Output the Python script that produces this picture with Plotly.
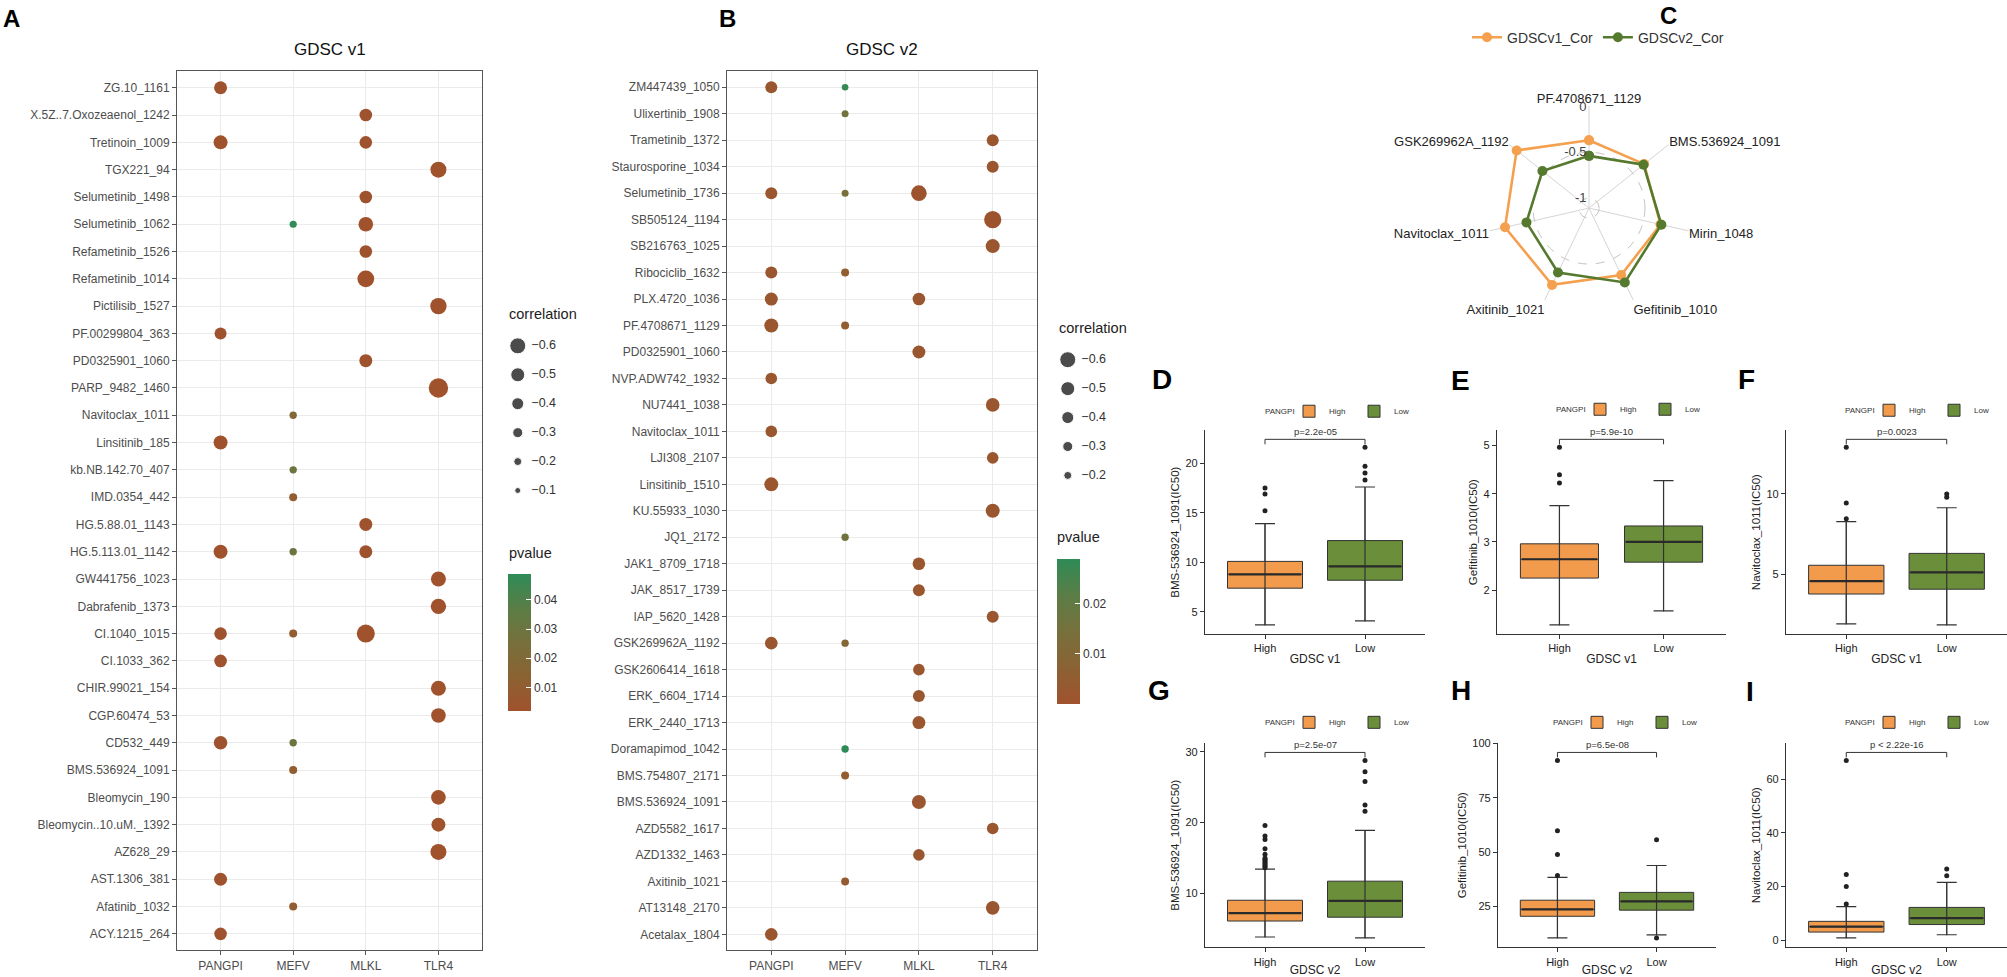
import plotly.graph_objects as go

W, H = 2007, 977

# ---------------- data ----------------
GENES = ["PANGPI", "MEFV", "MLKL", "TLR4"]

V1_ROWS = ["ZG.10_1161", "X.5Z..7.Oxozeaenol_1242", "Tretinoin_1009", "TGX221_94",
           "Selumetinib_1498", "Selumetinib_1062", "Refametinib_1526", "Refametinib_1014",
           "Pictilisib_1527", "PF.00299804_363", "PD0325901_1060", "PARP_9482_1460",
           "Navitoclax_1011", "Linsitinib_185", "kb.NB.142.70_407", "IMD.0354_442",
           "HG.5.88.01_1143", "HG.5.113.01_1142", "GW441756_1023", "Dabrafenib_1373",
           "CI.1040_1015", "CI.1033_362", "CHIR.99021_154", "CGP.60474_53", "CD532_449",
           "BMS.536924_1091", "Bleomycin_190", "Bleomycin..10.uM._1392", "AZ628_29",
           "AST.1306_381", "Afatinib_1032", "ACY.1215_264"]

V1_DRUG = ["ZG.10_1161", "X.5Z..7.Oxozeaenol_1242", "Tretinoin_1009", "Tretinoin_1009",
           "TGX221_94", "Selumetinib_1498", "Selumetinib_1062", "Selumetinib_1062",
           "Refametinib_1526", "Refametinib_1014", "Pictilisib_1527", "PF.00299804_363",
           "PD0325901_1060", "PARP_9482_1460", "Navitoclax_1011", "Linsitinib_185",
           "kb.NB.142.70_407", "IMD.0354_442", "HG.5.88.01_1143", "HG.5.113.01_1142",
           "HG.5.113.01_1142", "HG.5.113.01_1142", "GW441756_1023", "Dabrafenib_1373",
           "CI.1040_1015", "CI.1040_1015", "CI.1040_1015", "CI.1033_362", "CHIR.99021_154",
           "CGP.60474_53", "CD532_449", "CD532_449", "BMS.536924_1091", "Bleomycin_190",
           "Bleomycin..10.uM._1392", "AZ628_29", "AST.1306_381", "Afatinib_1032", "ACY.1215_264"]
V1_GENE = ["PANGPI", "MLKL", "PANGPI", "MLKL", "TLR4", "MLKL", "MEFV", "MLKL", "MLKL", "MLKL",
           "TLR4", "PANGPI", "MLKL", "TLR4", "MEFV", "PANGPI", "MEFV", "MEFV", "MLKL", "PANGPI",
           "MEFV", "MLKL", "TLR4", "TLR4", "PANGPI", "MEFV", "MLKL", "PANGPI", "TLR4", "TLR4",
           "PANGPI", "MEFV", "MEFV", "TLR4", "TLR4", "TLR4", "PANGPI", "MEFV", "PANGPI"]
V1_COR = [-0.45, -0.43, -0.50, -0.43, -0.60, -0.43, -0.16, -0.53, -0.43, -0.64,
          -0.62, -0.40, -0.45, -0.77, -0.17, -0.50, -0.17, -0.20, -0.45, -0.50,
          -0.17, -0.45, -0.55, -0.57, -0.43, -0.20, -0.70, -0.43, -0.55, -0.53,
          -0.48, -0.17, -0.20, -0.53, -0.50, -0.60, -0.45, -0.20, -0.43]
V1_P = [0.003, 0.003, 0.002, 0.003, 0.002, 0.003, 0.048, 0.002, 0.003, 0.002,
        0.002, 0.003, 0.003, 0.001, 0.019, 0.002, 0.030, 0.010, 0.003, 0.002,
        0.030, 0.003, 0.002, 0.002, 0.003, 0.010, 0.001, 0.003, 0.002, 0.002,
        0.003, 0.030, 0.010, 0.002, 0.002, 0.002, 0.003, 0.010, 0.003]

V2_ROWS = ["ZM447439_1050", "Ulixertinib_1908", "Trametinib_1372", "Staurosporine_1034",
           "Selumetinib_1736", "SB505124_1194", "SB216763_1025", "Ribociclib_1632",
           "PLX.4720_1036", "PF.4708671_1129", "PD0325901_1060", "NVP.ADW742_1932",
           "NU7441_1038", "Navitoclax_1011", "LJI308_2107", "Linsitinib_1510", "KU.55933_1030",
           "JQ1_2172", "JAK1_8709_1718", "JAK_8517_1739", "IAP_5620_1428", "GSK269962A_1192",
           "GSK2606414_1618", "ERK_6604_1714", "ERK_2440_1713", "Doramapimod_1042",
           "BMS.754807_2171", "BMS.536924_1091", "AZD5582_1617", "AZD1332_1463",
           "Axitinib_1021", "AT13148_2170", "Acetalax_1804"]

V2_DRUG = ["ZM447439_1050", "ZM447439_1050", "Ulixertinib_1908", "Trametinib_1372",
           "Staurosporine_1034", "Selumetinib_1736", "Selumetinib_1736", "Selumetinib_1736",
           "SB505124_1194", "SB216763_1025", "Ribociclib_1632", "Ribociclib_1632",
           "PLX.4720_1036", "PLX.4720_1036", "PF.4708671_1129", "PF.4708671_1129",
           "PD0325901_1060", "NVP.ADW742_1932", "NU7441_1038", "Navitoclax_1011",
           "LJI308_2107", "Linsitinib_1510", "KU.55933_1030", "JQ1_2172", "JAK1_8709_1718",
           "JAK_8517_1739", "IAP_5620_1428", "GSK269962A_1192", "GSK269962A_1192",
           "GSK2606414_1618", "ERK_6604_1714", "ERK_2440_1713", "Doramapimod_1042",
           "BMS.754807_2171", "BMS.536924_1091", "AZD5582_1617", "AZD1332_1463",
           "Axitinib_1021", "AT13148_2170", "Acetalax_1804"]
V2_GENE = ["PANGPI", "MEFV", "MEFV", "TLR4", "TLR4", "PANGPI", "MEFV", "MLKL", "TLR4", "TLR4",
           "PANGPI", "MEFV", "PANGPI", "MLKL", "PANGPI", "MEFV", "MLKL", "PANGPI", "TLR4", "PANGPI",
           "TLR4", "PANGPI", "TLR4", "MEFV", "MLKL", "MLKL", "TLR4", "PANGPI", "MEFV", "MLKL",
           "MLKL", "MLKL", "MEFV", "MEFV", "MLKL", "TLR4", "MLKL", "MEFV", "TLR4", "PANGPI"]
V2_COR = [-0.40, -0.13, -0.15, -0.40, -0.40, -0.40, -0.15, -0.58, -0.66, -0.50,
          -0.40, -0.20, -0.45, -0.43, -0.50, -0.20, -0.45, -0.38, -0.48, -0.38,
          -0.38, -0.50, -0.50, -0.17, -0.43, -0.40, -0.40, -0.43, -0.17, -0.38,
          -0.40, -0.45, -0.17, -0.20, -0.50, -0.38, -0.38, -0.20, -0.48, -0.43]
V2_P = [0.002, 0.028, 0.016, 0.002, 0.002, 0.002, 0.014, 0.001, 0.001, 0.002,
        0.002, 0.005, 0.002, 0.002, 0.002, 0.005, 0.002, 0.002, 0.002, 0.002,
        0.002, 0.002, 0.002, 0.016, 0.002, 0.002, 0.002, 0.002, 0.010, 0.002,
        0.002, 0.002, 0.029, 0.004, 0.002, 0.002, 0.002, 0.004, 0.002, 0.002]

V1_SIZE_BREAKS = [-0.6, -0.5, -0.4, -0.3, -0.2, -0.1]
V2_SIZE_BREAKS = [-0.6, -0.5, -0.4, -0.3, -0.2]
V1_P_TICKS = [0.01, 0.02, 0.03, 0.04]
V2_P_TICKS = [0.01, 0.02]

RADAR_AXES = ["PF.4708671_1129", "BMS.536924_1091", "Mirin_1048", "Gefitinib_1010",
              "Axitinib_1021", "Navitoclax_1011", "GSK269962A_1192"]
RADAR_V1 = [-0.37, -0.34, -0.31, -0.30, -0.18, -0.17, -0.10]
RADAR_V2 = [-0.54, -0.35, -0.30, -0.21, -0.33, -0.41, -0.46]
RADAR_GRID = [-1, -0.5, 0]

GROUPS = ["High", "Low"]
# box stats: [lower whisker, Q1, median, Q3, upper whisker]
D_HIGH = [3.7, 7.4, 8.8, 10.1, 13.9]
D_HIGH_OUT = [15.2, 16.9, 17.5]
D_LOW = [4.1, 8.2, 9.6, 12.2, 17.6]
D_LOW_OUT = [18.3, 19.0, 19.7, 21.6]
E_HIGH = [1.28, 2.25, 2.64, 2.96, 3.75]
E_HIGH_OUT = [4.22, 4.39, 4.96]
E_LOW = [1.57, 2.58, 3.00, 3.33, 4.27]
E_LOW_OUT = []
F_HIGH = [1.91, 3.77, 4.57, 5.56, 8.27]
F_HIGH_OUT = [8.46, 9.44, 12.9]
F_LOW = [1.85, 4.07, 5.12, 6.30, 9.14]
F_LOW_OUT = [9.8, 10.0]
G_HIGH = [3.8, 6.06, 7.18, 9.0, 13.4]
G_HIGH_OUT = [13.6, 13.8, 14.0, 14.2, 14.4, 14.6, 14.8, 15.0, 15.5, 16.3, 17.6, 18.1, 19.6]
G_LOW = [3.66, 6.6, 8.9, 11.7, 18.9]
G_LOW_OUT = [21.6, 22.5, 25.8, 27.2, 28.8]
H_HIGH = [10.4, 20.4, 23.6, 27.8, 38.3]
H_HIGH_OUT = [39.2, 48.8, 59.8, 92.2]
H_LOW = [11.8, 23.2, 27.3, 31.4, 43.8]
H_LOW_OUT = [10.4, 55.6]
I_HIGH = [0.8, 3.0, 5.0, 7.0, 12.5]
I_HIGH_OUT = [13.5, 20.0, 24.5, 67.0]
I_LOW = [2.0, 5.8, 8.2, 12.2, 21.5]
I_LOW_OUT = [24.0, 26.5]
P_LABELS = ["p=2.2e-05", "p=5.9e-10", "p=0.0023", "p=2.5e-07", "p=6.5e-08", "p < 2.22e-16"]

# ---------------- helpers / styles ----------------
def X(a):
    return a / W


def Y(b):
    return 1 - b / H


def xdom(a, b):
    return [a / W, b / W]


def ydom(top, bottom):
    return [1 - bottom / H, 1 - top / H]


def dot_size(c):
    return 4 + 20 * abs(c)


FONT = "Liberation Sans, Arial, sans-serif"
PSCALE = [[0, "#A0522D"], [0.25, "#8B6233"], [0.5, "#77703C"], [0.75, "#5B7D46"], [1, "#2E8B57"]]
ORANGE = "#F29B4C"
GREEN = "#6A8E3A"
R_OR = "#F4A04E"
R_GR = "#557A2E"

fig = go.Figure()
layout = dict(width=W, height=H, margin=dict(l=0, r=0, t=0, b=0), paper_bgcolor="white",
              plot_bgcolor="white", font=dict(family=FONT, color="#333"), boxmode="overlay")
ann = []


def axname(n):
    return "" if n == 1 else str(n)


# ---------------- dot plots (A, B) ----------------
def dot_panel(n, rows, drugs, genes, cors, ps, xd, yd, cax, title, title_xy):
    s = axname(n)
    fig.add_trace(go.Scatter(x=genes, y=drugs, mode="markers",
                             marker=dict(size=[dot_size(c) for c in cors], color=ps,
                                         coloraxis=cax, line=dict(width=0), opacity=1),
                             xaxis="x" + s, yaxis="y" + s, showlegend=False, hoverinfo="skip"))
    common = dict(showgrid=True, gridcolor="#EBEBEB", gridwidth=1, showline=True, mirror=True,
                  linecolor="#555", linewidth=1, ticks="outside", ticklen=4, tickcolor="#555",
                  zeroline=False, tickfont=dict(size=12, color="#4D4D4D"))
    layout["xaxis" + s] = dict(domain=xd, anchor="y" + s, type="category", categoryorder="array",
                               categoryarray=GENES, range=[-0.6, len(GENES) - 0.4], **common)
    layout["yaxis" + s] = dict(domain=yd, anchor="x" + s, type="category", categoryorder="array",
                               categoryarray=rows, range=[len(rows) - 0.4, -0.6], **common)
    ann.append(dict(x=X(title_xy[0]), y=Y(title_xy[1]), xref="paper", yref="paper", text=title,
                    showarrow=False, font=dict(size=17, color="#111"), xanchor="center",
                    yanchor="middle"))


def size_legend(n, breaks, xd, top_px, step_px):
    s = axname(n)
    k = len(breaks)
    yd = ydom(top_px - step_px / 2, top_px + step_px * (k - 0.5))
    idx = list(range(k))
    fig.add_trace(go.Scatter(x=[0.15] * k, y=idx, mode="markers",
                             marker=dict(size=[dot_size(b) for b in breaks], color="black"),
                             xaxis="x" + s, yaxis="y" + s, showlegend=False, hoverinfo="skip"))
    fig.add_trace(go.Scatter(x=[0.31] * k, y=idx, mode="text",
                             text=[("\u2212" + str(abs(b))) for b in breaks],
                             textposition="middle right",
                             textfont=dict(size=12.5, color="#333"),
                             xaxis="x" + s, yaxis="y" + s, showlegend=False, hoverinfo="skip"))
    layout["xaxis" + s] = dict(domain=xd, anchor="y" + s, range=[0, 1], visible=False)
    layout["yaxis" + s] = dict(domain=yd, anchor="x" + s, range=[k - 0.5, -0.5], visible=False)


dot_panel(1, V1_ROWS, V1_DRUG, V1_GENE, V1_COR, V1_P, xdom(177, 482), ydom(66, 953),
          "coloraxis", "GDSC v1", (330, 44))
size_legend(2, V1_SIZE_BREAKS, xdom(505, 590), 343, 29.2)
dot_panel(3, V2_ROWS, V2_DRUG, V2_GENE, V2_COR, V2_P, xdom(727, 1037), ydom(66, 953),
          "coloraxis2", "GDSC v2", (882, 44))
size_legend(4, V2_SIZE_BREAKS, xdom(1055, 1140), 357, 29.2)


def cbar(xl, top, length, ticks):
    return dict(x=X(xl), xanchor="left", y=Y(top), yanchor="top", len=length, lenmode="pixels",
                thickness=23, thicknessmode="pixels", tickvals=ticks, ticks="inside", ticklen=5,
                tickcolor="white", tickwidth=1, outlinewidth=0, xpad=0, ypad=0, tickformat=".2f",
                tickfont=dict(size=12, color="#333"))


layout["coloraxis"] = dict(colorscale=PSCALE, cmin=0.002, cmax=0.049,
                           colorbar=cbar(508, 573, 137, V1_P_TICKS))
layout["coloraxis2"] = dict(colorscale=PSCALE, cmin=0.0, cmax=0.029,
                            colorbar=cbar(1057, 558, 145, V2_P_TICKS))

for (tx, ty, t) in [(507, 311, "correlation"), (507, 552, "pvalue"),
                    (1057, 325, "correlation"), (1055, 536, "pvalue")]:
    ann.append(dict(x=X(tx), y=Y(ty), xref="paper", yref="paper", text=t, showarrow=False,
                    xanchor="left", yanchor="middle", font=dict(size=14.5, color="#222")))

# ---------------- radar (C) ----------------
centre = RADAR_GRID[0] - (RADAR_GRID[-1] - RADAR_GRID[0]) / 9
for vals, nm, col in [(RADAR_V1, "GDSCv1_Cor", R_OR), (RADAR_V2, "GDSCv2_Cor", R_GR)]:
    fig.add_trace(go.Scatterpolar(r=vals + vals[:1], theta=RADAR_AXES + RADAR_AXES[:1],
                                  mode="lines+markers", name=nm,
                                  line=dict(color=col, width=2.6), marker=dict(size=10, color=col),
                                  legend="legend", hoverinfo="skip"))
layout["polar"] = dict(
    domain=dict(x=xdom(1486, 1692), y=ydom(101, 307)), bgcolor="white",
    angularaxis=dict(type="category", categoryorder="array", categoryarray=RADAR_AXES,
                     rotation=90, direction="clockwise", showgrid=True, gridcolor="#D5D5D5",
                     gridwidth=1.3, showline=False, ticks="",
                     tickfont=dict(size=13, color="#222")),
    radialaxis=dict(range=[centre, RADAR_GRID[-1] + 0.004], tickvals=RADAR_GRID,
                    ticktext=[str(v) for v in RADAR_GRID], showgrid=True, gridcolor="#C4C4C4",
                    griddash="dash", gridwidth=1.3, showline=False, ticks="", angle=90,
                    tickangle=90, side="counterclockwise",
                    tickfont=dict(size=13, color="#444")))
layout["legend"] = dict(orientation="h", x=X(1598), xanchor="center", y=Y(32), yanchor="middle",
                        font=dict(size=14, color="#333"), bgcolor="rgba(0,0,0,0)")

# ---------------- box plots (D-I) ----------------
BOX_SPECS = [
    # axis no, x px, y px, high, high_out, low, low_out, ytitle, xtitle, dtick, legend (left px, y px)
    (5, (1205, 1425), (428, 634), D_HIGH, D_HIGH_OUT, D_LOW, D_LOW_OUT,
     "BMS-536924_1091(IC50)", "GDSC v1", 5, (1289, 409)),
    (6, (1497, 1726), (428, 634), E_HIGH, E_HIGH_OUT, E_LOW, E_LOW_OUT,
     "Gefitinib_1010(IC50)", "GDSC v1", 1, (1580, 407)),
    (7, (1786, 2007), (428, 634), F_HIGH, F_HIGH_OUT, F_LOW, F_LOW_OUT,
     "Navitoclax_1011(IC50)", "GDSC v1", 5, (1869, 408)),
    (8, (1205, 1425), (744, 950), G_HIGH, G_HIGH_OUT, G_LOW, G_LOW_OUT,
     "BMS-536924_1091(IC50)", "GDSC v2", 10, (1289, 723)),
    (9, (1498, 1716), (744, 950), H_HIGH, H_HIGH_OUT, H_LOW, H_LOW_OUT,
     "Gefitinib_1010(IC50)", "GDSC v2", 25, (1577, 723)),
    (10, (1786, 2007), (744, 950), I_HIGH, I_HIGH_OUT, I_LOW, I_LOW_OUT,
     "Navitoclax_1011(IC50)", "GDSC v2", 20, (1869, 723)),
]

XR = [-0.6, 1.6]
BOXW = 0.75
for i, (n, xpx, ypx, hi, hio, lo, loo, ytitle, xtitle, dt, lxy) in enumerate(BOX_SPECS):
    s = str(n)
    xa, ya = "x" + s, "y" + s
    leg = "legend" + str(i + 2)
    vals = hi + lo + hio + loo
    vmin, vmax = min(vals), max(vals)
    span = vmax - vmin
    by = vmax + 0.045 * span
    tip = 0.028 * span
    pad = 0.05 * (by - vmin)
    yr = [vmin - pad, by + pad]
    px_per_unit = (xpx[1] - xpx[0]) / (XR[1] - XR[0])
    for g, st, col in [("High", hi, ORANGE), ("Low", lo, GREEN)]:
        fig.add_trace(go.Box(x=[g], lowerfence=[st[0]], q1=[st[1]], median=[st[2]], q3=[st[3]],
                             upperfence=[st[4]], name=g, fillcolor=col,
                             line=dict(color="#333", width=1), width=BOXW, whiskerwidth=0,
                             boxpoints=False, xaxis=xa, yaxis=ya, legend=leg, hoverinfo="skip"))
    fig.add_trace(go.Scatter(x=GROUPS, y=[hi[0], lo[0]], mode="markers",
                             marker=dict(size=1, color="#333"),
                             error_y=dict(type="data", symmetric=False,
                                          array=[hi[4] - hi[0], lo[4] - lo[0]], arrayminus=[0, 0],
                                          width=10, thickness=1.2, color="#333"),
                             xaxis=xa, yaxis=ya, showlegend=False, hoverinfo="skip"))
    fig.add_trace(go.Scatter(x=GROUPS, y=[hi[2], lo[2]], mode="markers",
                             marker=dict(symbol="line-ew",
                                         size=(BOXW * px_per_unit - 2) / 1.414,
                                         line=dict(width=2.2, color="#2a2a2a")),
                             xaxis=xa, yaxis=ya, showlegend=False, hoverinfo="skip"))
    fig.add_trace(go.Scatter(x=["High"] * len(hio) + ["Low"] * len(loo), y=hio + loo,
                             mode="markers", marker=dict(size=5, color="#222"),
                             xaxis=xa, yaxis=ya, showlegend=False, hoverinfo="skip"))
    fig.add_trace(go.Scatter(x=["High", "High", "Low", "Low"], y=[by - tip, by, by, by - tip],
                             mode="lines", line=dict(color="#333", width=1),
                             xaxis=xa, yaxis=ya, showlegend=False, hoverinfo="skip"))
    ann.append(dict(x=0.5, y=by, xref=xa, yref=ya, text=P_LABELS[i], showarrow=False,
                    xanchor="center", yanchor="bottom", font=dict(size=9.5, color="#333")))
    layout["xaxis" + s] = dict(domain=xdom(*xpx), anchor=ya, type="category",
                               categoryorder="array", categoryarray=GROUPS, range=XR,
                               showline=True, linecolor="#333", linewidth=1.2, ticks="outside",
                               ticklen=4, tickcolor="#333", showgrid=False, zeroline=False,
                               tickfont=dict(size=11, color="#222"),
                               title=dict(text=xtitle, font=dict(size=12, color="#222"), standoff=1))
    layout["yaxis" + s] = dict(domain=ydom(*ypx), anchor=xa, range=yr, dtick=dt, tick0=0,
                               showline=True, linecolor="#333", linewidth=1.2, ticks="outside",
                               ticklen=4, tickcolor="#333", showgrid=False, zeroline=False,
                               tickfont=dict(size=11, color="#222"),
                               title=dict(text=ytitle, font=dict(size=11.5, color="#222"),
                                          standoff=3))
    layout[leg] = dict(orientation="h", x=X(lxy[0]), xanchor="left", y=Y(lxy[1]),
                       yanchor="middle", font=dict(size=8, color="#333"),
                       bgcolor="rgba(0,0,0,0)", itemwidth=30, entrywidth=20,
                       entrywidthmode="pixels", tracegroupgap=0, valign="middle")
    ann.append(dict(x=X(lxy[0] + 8), y=Y(lxy[1]), xref="paper", yref="paper", text="PANGPI",
                    showarrow=False, xanchor="right", yanchor="middle",
                    font=dict(size=8, color="#333")))

# ---------------- panel letters ----------------
LETTERS = [("A", 11, 13, 24), ("B", 727, 13, 24), ("C", 1668, 10, 24),
           ("D", 1162, 377, 28), ("E", 1460, 378, 28), ("F", 1746, 377, 28),
           ("G", 1159, 691, 28), ("H", 1461, 691, 28), ("I", 1750, 692, 28)]
for (t, lx, ly, fs) in LETTERS:
    ann.append(dict(x=X(lx), y=Y(ly), xref="paper", yref="paper", text="<b>" + t + "</b>",
                    showarrow=False, xanchor="center", yanchor="middle",
                    font=dict(size=fs, color="black")))

layout["annotations"] = ann
fig.update_layout(**layout)
fig.write_html("out.html", config={"displayModeBar": False},
               post_script="document.body.style.margin='0px';"
                           "document.body.style.overflow='hidden';")
